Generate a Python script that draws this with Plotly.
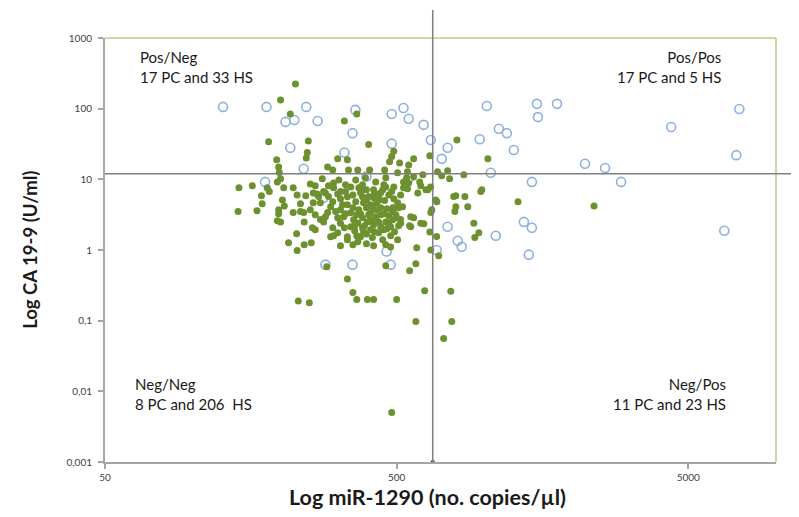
import math
import plotly.graph_objects as go

# ---------------- data ----------------
# PC samples (open blue circles): miR-1290 copies/ul, CA 19-9 U/ml
pc_mir = [127, 179, 208, 223, 245, 268, 216, 240, 177, 281, 361, 353, 331, 481, 481,
          462, 528, 550, 619, 655, 748, 714, 554, 1019, 1514, 1774, 1526, 1121, 1194,
          964, 1262, 1052, 1455, 2213, 2593, 2943, 4372, 7485, 7309, 6648, 748, 810,
          836, 1094, 1366, 1455, 1420, 686, 285, 353, 477, 394]
pc_ca = [106, 106, 65, 69, 106, 67, 28, 14.1, 9.2, 5.5, 96, 45, 24, 84, 32,
         0.95, 102, 72, 59, 36, 28, 19.5, 10.5, 109, 117, 117, 76, 52, 45,
         37, 26, 12.4, 9.2, 16.6, 14.5, 9.2, 55, 99, 22, 1.87, 2.13, 1.35,
         1.11, 1.59, 2.5, 2.06, 0.86, 1.0, 0.62, 0.62, 0.62, 11.0]

# HS samples (filled green dots)
hs_mir = [225, 200, 216, 182, 249, 247, 245, 331, 365, 401, 489, 481, 805, 650, 1028,
          572, 314, 194, 197, 198, 290, 339, 473, 512, 550,
          342, 368, 404, 455, 504, 545, 615, 691, 748, 714, 760, 850, 798, 640, 654,
          605, 550, 528, 489, 452, 417, 382, 348, 317, 302, 600, 528, 545, 591, 630,
          681, 687, 785, 857, 980, 972, 1304, 2377, 798, 792, 877, 660, 655, 920, 957,
          927, 559, 572, 605, 620, 650, 686, 655, 697, 586, 516, 554, 524, 516,
          200, 195, 144, 160, 180, 183, 205, 221, 253, 263, 278, 292, 304, 228, 244,
          143, 166, 173, 172, 197, 197, 203, 206, 221, 234, 240, 259, 267, 274, 285,
          292, 302, 304, 314, 321, 195, 200, 213, 228, 241, 255, 241, 257, 263, 304,
          314, 339, 368, 417, 504, 234, 253, 259, 263, 274, 281, 227, 297, 270, 281,
          290, 309, 314, 302, 230, 251,
          288, 339, 354, 365, 397, 417, 459, 500, 481, 582, 554, 624, 767, 582, 773, 725,
          321, 329, 321, 348, 368, 339, 385, 417, 441, 470, 497, 504, 559, 516, 407,
          441, 385, 362, 339, 376, 441, 470, 417, 541, 572, 485, 489, 477, 477, 500,
          334, 354, 371, 394, 401, 427, 455, 394, 371, 348, 339, 424, 452, 382, 356,
          397, 434, 407, 413, 448, 459, 376, 359, 394, 477, 492, 407, 463, 508, 427,
          401, 448, 331, 354, 321, 459, 382, 434, 413, 388, 470, 365, 485, 420,
          334, 362, 391, 424, 459, 326, 354, 376, 394, 420, 437, 459, 481, 382, 407,
          434, 452, 365, 394, 413, 334, 359, 485, 508, 441, 388, 463, 321, 297, 285]
hs_ca = [224, 133, 84, 34, 35, 24, 20, 67, 84, 31, 25, 21, 36, 21.5, 19.5,
         19.5, 19.5, 19, 15, 12.5, 15, 18.9, 17.7, 17, 16,
         13.6, 13.6, 13.6, 13.6, 12.4, 12.8, 11.6, 12.8, 13.2, 11.2, 10.2, 11.6, 5.85, 7.1, 7.8,
         8.1, 8.9, 7.6, 7.8, 8.4, 7.1, 8.4, 7.8, 9.8, 13.6, 9.2, 9.2, 7.35, 6.4, 7.1,
         5.1, 4.8, 5.7, 5.7, 7.1, 6.7, 4.8, 4.2, 4.1, 3.5, 4.1, 3.7, 3.4, 2.4, 1.75,
         1.5, 2.95, 2.85, 2.4, 2.35, 1.8, 1.55, 1.0, 0.83, 1.08, 2.4, 2.2, 4.1, 2.7,
         10.2, 9.2, 7.6, 8.1, 7.6, 6.7, 7.6, 7.6, 8.6, 8.1, 10.2, 8.1, 8.9, 6.0, 5.85,
         3.5, 3.6, 4.5, 5.85, 3.7, 3.25, 5.1, 4.2, 3.4, 4.5, 3.4, 6.4, 6.2, 4.65, 6.4,
         5.7, 4.8, 7.6, 6.2, 5.3, 2.6, 2.5, 1.27, 0.98, 1.19, 1.27, 2.5, 2.06, 1.93, 1.59,
         1.75, 1.4, 1.31, 1.15, 1.4, 3.5, 3.7, 4.65, 3.15, 2.7, 2.5, 1.7, 1.54, 5.7, 6.7,
         3.4, 3.5, 2.86, 2.06, 0.19, 0.18,
         0.58, 0.39, 0.25, 0.2, 0.2, 0.2, 0.6, 0.2, 0.005, 0.64, 0.51, 0.265, 0.26, 0.097, 0.097, 0.056,
         3.7, 2.95, 2.4, 2.13, 2.42, 1.54, 1.81, 2.27, 2.13, 2.42, 3.15, 4.65, 2.13, 6.0, 3.36,
         3.95, 4.65, 4.8, 5.66, 6.44, 6.44, 6.0, 5.5, 10.5, 10.9, 3.96, 5.3, 2.13, 1.1, 2.86,
         6.7, 6.0, 7.6, 7.1, 5.7, 4.65, 5.0, 3.96, 3.7, 3.36, 4.36, 2.95, 3.25, 2.86, 2.68,
         2.5, 1.75, 1.93, 1.5, 1.4, 2.5, 1.54, 1.87, 1.23, 1.59, 1.81, 4.36, 3.83, 2.2, 3.7,
         3.15, 7.1, 2.06, 1.19, 1.15, 1.19, 5.66, 5.85, 2.51, 2.2, 3.05, 3.15, 2.68, 1.81,
         8.4, 9.8, 10.5, 9.2, 10.5, 4.36, 3.96, 3.25, 5.1, 6.4, 5.1, 7.8, 6.7, 2.06, 2.68,
         2.5, 1.93, 1.59, 1.69, 4.1, 3.25, 2.2, 3.48, 3.96, 3.15, 7.1, 2.0, 6.7, 4.1, 2.95]

cut_mir = 665     # vertical cut-off (miR-1290)
cut_ca = 12       # horizontal cut-off (CA 19-9)

x_range = [50, 10000]
y_range = [0.001, 1000]
x_ticks = [50, 500, 5000]
x_tick_text = ["50", "500", "5000"]
y_ticks = [0.001, 0.01, 0.1, 1, 10, 100, 1000]
y_tick_text = ["0,001", "0,01", "0,1", "1", "10", "100", "1000"]

x_title = "Log miR-1290 (no. copies/µl)"
y_title = "Log CA 19-9 (U/ml)"
quadrant_text = {
    "Pos/Neg": "Pos/Neg<br>17 PC and 33 HS",
    "Pos/Pos": "Pos/Pos<br>17 PC and 5 HS",
    "Neg/Neg": "Neg/Neg<br>8 PC and 206  HS",
    "Neg/Pos": "Neg/Pos<br>11 PC and 23 HS",
}

# ---------------- figure ----------------
FONT = "Lato, 'Open Sans', sans-serif"
fig = go.Figure()

fig.add_trace(go.Scatter(
    x=pc_mir, y=pc_ca, mode="markers", name="PC",
    marker=dict(symbol="circle-open", size=9, color="#8EB0DC", line=dict(width=1.6, color="#8EB0DC")),
))
fig.add_trace(go.Scatter(
    x=hs_mir, y=hs_ca, mode="markers", name="HS",
    marker=dict(symbol="circle", size=7, color="#6E9130", line=dict(width=0)),
))
# small end markers of the cut-off lines
fig.add_trace(go.Scatter(
    x=[x_range[0], cut_mir], y=[cut_ca, y_range[0]], mode="markers",
    marker=dict(size=4, color="#1F2A5A"), cliponaxis=False, hoverinfo="skip",
))

lx0, lx1 = math.log10(x_range[0]), math.log10(x_range[1])
ly0, ly1 = math.log10(y_range[0]), math.log10(y_range[1])
vx = (math.log10(cut_mir) - lx0) / (lx1 - lx0)
hy = (math.log10(cut_ca) - ly0) / (ly1 - ly0)

shapes = [
    # top / right frame (olive)
    dict(type="line", xref="paper", yref="paper", x0=0, x1=1, y0=1, y1=1,
         line=dict(color="#B9CC8E", width=1.6)),
    dict(type="line", xref="paper", yref="paper", x0=1, x1=1, y0=0, y1=1,
         line=dict(color="#B9CC8E", width=1.6)),
    # cut-off lines
    dict(type="line", xref="paper", yref="paper", x0=vx, x1=vx, y0=0, y1=1.066,
         line=dict(color="#7F7F7F", width=1.5)),
    dict(type="line", xref="paper", yref="paper", x0=0, x1=1.034, y0=hy, y1=hy,
         line=dict(color="#7F7F7F", width=1.5)),
]

ann_font = dict(family=FONT, size=15, color="#1A1A1A")
title_font_x = dict(family=FONT, size=21.5, color="#1A1A1A")
title_font_y = dict(family=FONT, size=18.5, color="#1A1A1A")
annotations = [
    dict(xref="paper", yref="paper", x=0.049, y=0.98, xanchor="left", yanchor="top", align="left",
         text=quadrant_text["Pos/Neg"], showarrow=False, font=ann_font),
    dict(xref="paper", yref="paper", x=0.921, y=0.98, xanchor="right", yanchor="top", align="right",
         text=quadrant_text["Pos/Pos"], showarrow=False, font=ann_font),
    dict(xref="paper", yref="paper", x=0.042, y=0.21, xanchor="left", yanchor="top", align="left",
         text=quadrant_text["Neg/Neg"], showarrow=False, font=ann_font),
    dict(xref="paper", yref="paper", x=0.9285, y=0.21, xanchor="right", yanchor="top", align="right",
         text=quadrant_text["Neg/Pos"], showarrow=False, font=ann_font),
    # axis titles
    dict(xref="paper", yref="paper", x=0.48, y=-0.083, xanchor="center", yanchor="middle",
         text="<b>" + x_title + "</b>", showarrow=False, font=title_font_x),
    dict(xref="paper", yref="paper", x=-0.112, y=0.5, xanchor="center", yanchor="middle",
         text="<b>" + y_title + "</b>", showarrow=False, font=title_font_y, textangle=-90),
]

# The page body has an 8px margin, so the figure is 8px smaller than the window
fig.update_layout(
    width=791, height=509,
    margin=dict(l=97, r=23, t=30, b=55),
    paper_bgcolor="white", plot_bgcolor="white",
    showlegend=False,
    shapes=shapes, annotations=annotations,
    font=dict(family=FONT, color="#404040"),
)
fig.update_xaxes(
    type="log", range=[lx0, lx1],
    tickvals=x_ticks, ticktext=x_tick_text,
    tickfont=dict(size=10, color="#404040"),
    ticks="outside", ticklen=5, tickcolor="#A6A6A6", tickwidth=1.5,
    showline=True, linecolor="#A6A6A6", linewidth=2, mirror=False,
    showgrid=False, zeroline=False,
)
fig.update_yaxes(
    type="log", range=[ly0, ly1],
    tickvals=y_ticks, ticktext=y_tick_text,
    tickfont=dict(size=10, color="#404040"),
    ticks="outside", ticklen=5, tickcolor="#A6A6A6", tickwidth=1.5,
    ticklabelstandoff=4,
    showline=True, linecolor="#A6A6A6", linewidth=2, mirror=False,
    showgrid=False, zeroline=False,
)

fig.write_html("out.html")
